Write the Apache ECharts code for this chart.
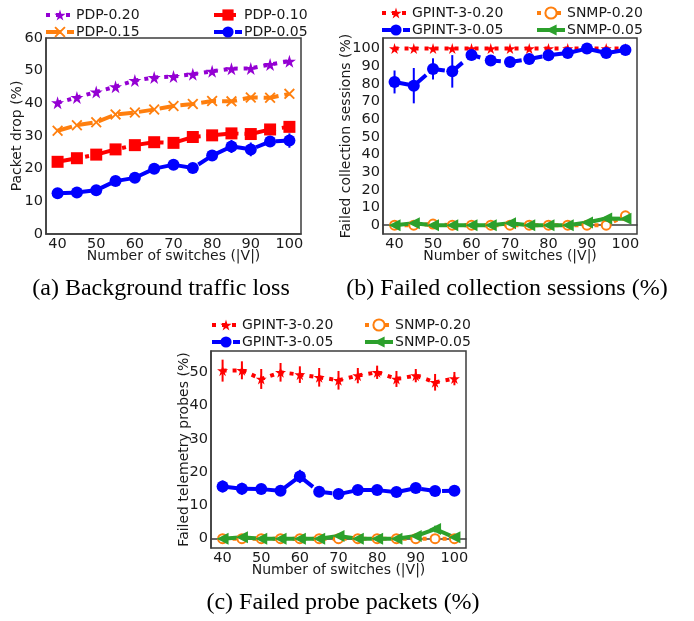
<!DOCTYPE html>
<html>
<head>
<meta charset="utf-8">
<script src="https://cdn.jsdelivr.net/npm/echarts@6/dist/echarts.min.js"></script>
<style>
  html, body { margin: 0; padding: 0; background: #fff; }
  #chart { width: 694px; height: 621px; }
</style>
</head>
<body>
<div id="chart"></div>
<script>
// number of switches (x axis for all three panels)
var switches = [40, 45, 50, 55, 60, 65, 70, 75, 80, 85, 90, 95, 100];
var xTicks = [40, 50, 60, 70, 80, 90, 100];

// (a) background traffic loss
var pdp020 = [40.2, 41.8, 43.5, 45.1, 47.0, 47.9, 48.2, 48.9, 49.8, 50.6, 50.7, 51.9, 52.9];
var pdp015 = [31.6, 33.3, 34.2, 36.6, 37.2, 38.1, 39.2, 39.8, 40.7, 40.6, 41.8, 41.7, 42.9];
var pdp010 = [22.1, 23.2, 24.3, 25.9, 27.2, 28.1, 27.9, 29.7, 30.2, 30.8, 30.6, 32.0, 32.8];
var pdp005 = [12.5, 12.7, 13.4, 16.2, 17.2, 20.0, 21.2, 20.2, 24.0, 26.8, 25.9, 28.3, 28.6];
var pdp005Err = [0.4, 0.4, 0.5, 0.5, 0.6, 1.0, 0.6, 0.6, 0.8, 2.0, 2.1, 1.3, 2.2];
var yTicksA = [0, 10, 20, 30, 40, 50, 60];

// (b) failed collection sessions
var gpint020Sess = [100, 100, 100, 100, 100, 100, 100, 100, 100, 100, 100, 100, 100];
var gpint005Sess = [81.1, 79.0, 88.5, 87.1, 96.4, 93.2, 92.4, 94.1, 96.2, 97.5, 100, 97.5, 99.2];
var gpint005SessErr = [6.5, 10, 6, 9.2, 3, 3, 2.5, 3, 1.5, 1, 0.5, 1, 0.5];
var snmp020Sess = [0, 0, 0.6, 0, 0, 0, 0, 0, 0, 0, 0, 0, 5.3];
var snmp005Sess = [0, 1.1, 0, 0, 0, 0, 1.1, 0, 0, 0, 1.5, 3.8, 3.6];
var yTicksB = [0, 10, 20, 30, 40, 50, 60, 70, 80, 90, 100];

// (c) failed probe packets
var gpint020Probe = [50.5, 50.6, 48.0, 50.0, 49.3, 48.5, 47.6, 49.0, 50.0, 48.0, 49.0, 47.0, 48.1];
var gpint020ProbeErr = [3.3, 2.7, 3, 2.8, 2.5, 2.8, 2.8, 2.3, 2, 2.4, 2, 2.5, 2];
var gpint005Probe = [15.7, 15.0, 14.9, 14.4, 18.7, 14.1, 13.4, 14.6, 14.6, 14.0, 15.2, 14.3, 14.4];
var gpint005ProbeErr = [1.8, 1.8, 1.5, 1.5, 2, 1.5, 1.2, 1, 1, 1, 1, 0.5, 0.5];
var snmp020Probe = [0, 0, 0, 0, 0, 0, 0, 0, 0, 0, 0, 0, 0];
var snmp005Probe = [0, 0.4, 0, 0, 0, 0, 0.8, 0, 0, 0, 0.8, 2.9, 0.4];
var snmp005ProbeErr = [0, 0, 0, 0, 0, 0, 0.4, 0, 0, 0, 0.4, 1, 0.4];
var yTicksC = [0, 10, 20, 30, 40, 50];

var STAR = 'path://M50,0 L61,35 L98,35 L68,57 L79,91 L50,70 L21,91 L32,57 L2,35 L39,35 Z';
var CROSS = 'path://M0,12 L12,0 L50,38 L88,0 L100,12 L62,50 L100,88 L88,100 L50,62 L12,100 L0,88 L38,50 Z';
var TRI_LEFT = 'path://M0,50 L90,0 L90,100 Z';

var DOTTED = [4, 6];
var DASHED = [15, 6];
var DASHDOT = [22, 6, 4, 6];

var txt = '#1a1a1a';
var frame = '#3c3c3c';

function pairs(ys) {
    return switches.map(function (x, i) { return [x, ys[i]]; });
}

function lineSeries(name, idx, ys, color, symbol, size, dash, extra) {
    var s = {
        name: name,
        type: 'line',
        xAxisIndex: idx,
        yAxisIndex: idx,
        data: pairs(ys),
        symbol: symbol,
        symbolSize: size,
        showSymbol: true,
        animation: false,
        itemStyle: { color: color },
        lineStyle: { color: color, width: 4, type: dash }
    };
    if (extra) Object.assign(s, extra);
    return s;
}

function errSeries(idx, ys, errs, color) {
    return {
        type: 'custom',
        xAxisIndex: idx,
        yAxisIndex: idx,
        animation: false,
        silent: true,
        z: 3,
        encode: { x: 0, y: [1, 2] },
        data: switches.map(function (x, i) { return [x, ys[i] - errs[i], ys[i] + errs[i]]; }),
        renderItem: function (params, api) {
            var p1 = api.coord([api.value(0), api.value(1)]);
            var p2 = api.coord([api.value(0), api.value(2)]);
            return {
                type: 'line',
                shape: { x1: p1[0], y1: p1[1], x2: p2[0], y2: p2[1] },
                style: { stroke: color, lineWidth: 2 }
            };
        }
    };
}

function xAxisCfg(idx) {
    return {
        type: 'value',
        gridIndex: idx,
        min: 37,
        max: 103,
        name: 'Number of switches (|V|)',
        nameLocation: 'middle',
        nameGap: 15,
        nameMoveOverlap: false,
        nameTextStyle: { fontFamily: 'DejaVu Sans', fontSize: 14, color: txt, verticalAlign: 'top' },
        axisLine: { show: true, lineStyle: { color: frame, width: 1.5 } },
        axisTick: { show: false },
        splitLine: { show: false },
        axisLabel: {
            customValues: xTicks,
            margin: 3,
            fontFamily: 'DejaVu Sans', fontSize: 14.5, color: txt
        }
    };
}

function yAxisCfg(idx, name, min, max, ticks, gap) {
    return {
        type: 'value',
        gridIndex: idx,
        min: min,
        max: max,
        name: name,
        nameLocation: 'middle',
        nameGap: gap,
        nameMoveOverlap: false,
        nameTextStyle: { fontFamily: 'DejaVu Sans', fontSize: 14, color: txt, verticalAlign: 'middle' },
        axisLine: { show: true, lineStyle: { color: frame, width: 1.5 } },
        axisTick: { show: false },
        splitLine: { show: false },
        axisLabel: {
            customValues: ticks,
            margin: 3,
            fontFamily: 'DejaVu Sans', fontSize: 14.5, color: txt
        }
    };
}

function legendCfg(left, top, names) {
    return {
        orient: 'vertical',
        left: left,
        top: top,
        padding: 0,
        itemGap: 3,
        itemWidth: 28,
        itemHeight: 14,
        data: names,
        selectedMode: false,
        lineStyle: { width: 4 },
        textStyle: { fontFamily: 'DejaVu Sans', fontSize: 14, color: txt, padding: [0, 0, 0, -3] }
    };
}

var gridBase = { show: true, borderColor: frame, borderWidth: 1.5, backgroundColor: '#fff', containLabel: false };

var chart = echarts.init(document.getElementById('chart'), null, { renderer: 'canvas' });

var capFont = '24px "Liberation Serif"';

var option = {
    backgroundColor: '#fff',
    animation: false,
    grid: [
        Object.assign({ left: 46, top: 38, width: 255, height: 196 }, gridBase),
        Object.assign({ left: 383, top: 38, width: 254, height: 196 }, gridBase),
        Object.assign({ left: 211, top: 351, width: 255, height: 197 }, gridBase)
    ],
    xAxis: [xAxisCfg(0), xAxisCfg(1), xAxisCfg(2)],
    yAxis: [
        yAxisCfg(0, 'Packet drop (%)', 0, 60, yTicksA, 29),
        yAxisCfg(1, 'Failed collection sessions (%)', -5, 106, yTicksB, 37),
        yAxisCfg(2, 'Failed telemetry probes (%)', -2.8, 56.4, yTicksC, 27)
    ],
    legend: [
        legendCfg(44, 8, ['PDP-0.20', 'PDP-0.15']),
        legendCfg(212, 8, ['PDP-0.10', 'PDP-0.05']),
        legendCfg(380, 6, ['GPINT-3-0.20', 'GPINT-3-0.05']),
        legendCfg(535, 6, ['SNMP-0.20', 'SNMP-0.05']),
        legendCfg(210, 318, ['GPINT-3-0.20', 'GPINT-3-0.05']),
        legendCfg(363, 318, ['SNMP-0.20', 'SNMP-0.05'])
    ],
    graphic: [
        { type: 'text', x: 161, y: 289, style: { text: '(a) Background traffic loss', font: capFont, fill: '#000', textAlign: 'center', textVerticalAlign: 'middle' } },
        { type: 'text', x: 507, y: 289, style: { text: '(b) Failed collection sessions (%)', font: capFont, fill: '#000', textAlign: 'center', textVerticalAlign: 'middle' } },
        { type: 'text', x: 343, y: 603, style: { text: '(c) Failed probe packets (%)', font: capFont, fill: '#000', textAlign: 'center', textVerticalAlign: 'middle' } }
    ],
    series: [
        // (a)
        lineSeries('PDP-0.20', 0, pdp020, '#9400d3', STAR, 13, DOTTED),
        lineSeries('PDP-0.15', 0, pdp015, '#ff7f0e', CROSS, 11, DASHED),
        lineSeries('PDP-0.10', 0, pdp010, '#ff0000', 'rect', 12, DASHDOT),
        errSeries(0, pdp005, pdp005Err, '#0000ff'),
        lineSeries('PDP-0.05', 0, pdp005, '#0000ff', 'circle', 12, DASHED),
        // (b)
        lineSeries('GPINT-3-0.20', 1, gpint020Sess, '#ff0000', STAR, 11, DOTTED),
        errSeries(1, gpint005Sess, gpint005SessErr, '#0000ff'),
        lineSeries('GPINT-3-0.05', 1, gpint005Sess, '#0000ff', 'circle', 12, DASHED),
        lineSeries('SNMP-0.20', 1, snmp020Sess, '#ff7f0e', 'emptyCircle', 9, DOTTED, { itemStyle: { color: '#ff7f0e', borderWidth: 3.5, borderColor: '#ff7f0e' } }),
        lineSeries('SNMP-0.05', 1, snmp005Sess, '#2ca02c', TRI_LEFT, 12, 'solid'),
        // (c)
        errSeries(2, gpint020Probe, gpint020ProbeErr, '#ff0000'),
        lineSeries('GPINT-3-0.20', 2, gpint020Probe, '#ff0000', STAR, 11, DOTTED),
        errSeries(2, gpint005Probe, gpint005ProbeErr, '#0000ff'),
        lineSeries('GPINT-3-0.05', 2, gpint005Probe, '#0000ff', 'circle', 12, DASHED),
        lineSeries('SNMP-0.20', 2, snmp020Probe, '#ff7f0e', 'emptyCircle', 9, DOTTED, { itemStyle: { color: '#ff7f0e', borderWidth: 3.5, borderColor: '#ff7f0e' } }),
        errSeries(2, snmp005Probe, snmp005ProbeErr, '#2ca02c'),
        lineSeries('SNMP-0.05', 2, snmp005Probe, '#2ca02c', TRI_LEFT, 12, 'solid')
    ]
};

chart.setOption(option);
</script>
</body>
</html>
